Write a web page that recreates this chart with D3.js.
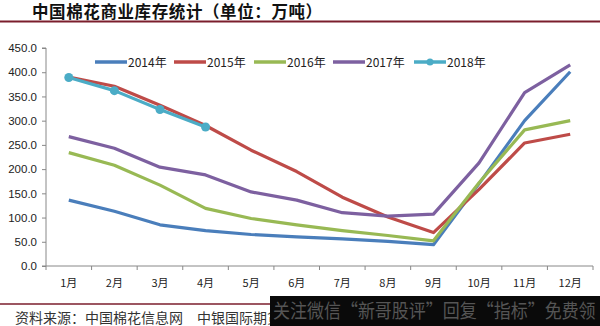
<!DOCTYPE html>
<html><head><meta charset="utf-8">
<script src="https://cdn.jsdelivr.net/npm/d3@7"></script>
<style>body{margin:0;background:#fff}svg{display:block}</style>
</head><body><svg id="c" width="600" height="326"></svg>
<script>
const months = ["1月","2月","3月","4月","5月","6月","7月","8月","9月","10月","11月","12月"];
const seriesNames = ["2014年","2015年","2016年","2017年","2018年"];
const s2014 = [136,113,85,73,65,60,56,51,44,170,300,401];
const s2015 = [390,371,332,290,239,195,142,101,69,158,254,272];
const s2016 = [234,208,167,119,98,85,73,63,52,172,281,300];
const s2017 = [267,243,204,188,153,136,110,103,107,213,358,415];
const s2018 = [389,362,323,287];
const yTicks = [0,50,100,150,200,250,300,350,400,450];
const colors = ["#4a7ebb","#be4b48","#98b954","#7d60a0","#4bacc6"];
const title = "中国棉花商业库存统计（单位：万吨）";
const sourceA = "资料来源：中国棉花信息网";
const sourceB = "中银国际期货";
const watermark = "关注微信“新哥股评”回复“指标”免费领";

const all = [s2014,s2015,s2016,s2017,s2018];
const svg = d3.select("#c");
const cjk = "'Noto Sans CJK SC','Noto Sans',sans-serif";

svg.append("text").attr("x",32).attr("y",18).attr("font-family",cjk).attr("font-weight","bold")
  .attr("font-size",16.5).attr("fill","#111").attr("letter-spacing",0.6).text(title);
svg.append("line").attr("x1",0).attr("x2",600).attr("y1",21.5).attr("y2",21.5).attr("stroke","#7b1e2c").attr("stroke-width",2);

const L = 46, R = 593, T = 48, B = 266;
const x = d3.scaleBand().domain(months).range([L,R]);
const y = d3.scaleLinear().domain([0,450]).range([B,T]);

const yAxis = svg.append("g").attr("transform",`translate(${L},0)`)
  .call(d3.axisLeft(y).tickValues(yTicks).tickFormat(d3.format(".1f")).tickSize(4).tickPadding(5));
yAxis.select(".domain").attr("stroke","#888").attr("d",`M-4,${T}H0V${B}H-4`);
yAxis.selectAll(".tick line").attr("stroke","#888");
yAxis.selectAll("text").attr("font-family","'Liberation Sans',Arial,sans-serif").attr("font-size",11.5).attr("fill","#222");

const xAxis = svg.append("g").attr("transform",`translate(0,${B})`)
  .call(d3.axisBottom(x).tickSize(0).tickPadding(13));
xAxis.select(".domain").attr("stroke","#888").attr("d",`M${L},0H${R}`);
xAxis.selectAll("text").attr("font-family",cjk).attr("font-size",11).attr("fill","#222");
svg.append("g").selectAll("line").data(d3.range(months.length+1)).join("line")
  .attr("x1",i=>L+i*x.step()).attr("x2",i=>L+i*x.step()).attr("y1",B).attr("y2",B+4).attr("stroke","#888");

const line = d3.line().x((d,i)=>x(months[i])+x.bandwidth()/2).y(d=>y(d));
all.forEach((s,k)=>{
  svg.append("path").datum(s).attr("d",line).attr("fill","none").attr("stroke",colors[k])
    .attr("stroke-width",3.2).attr("stroke-linejoin","round");
});
svg.append("g").selectAll("circle").data(s2018).join("circle")
  .attr("cx",(d,i)=>x(months[i])+x.bandwidth()/2).attr("cy",d=>y(d)).attr("r",4.5).attr("fill",colors[4]);

// legend
const legX = [95,174,254,333,414];
seriesNames.forEach((n,k)=>{
  const g = svg.append("g").attr("transform",`translate(${legX[k]},62)`);
  g.append("line").attr("x1",0).attr("x2",32).attr("stroke",colors[k]).attr("stroke-width",3.5);
  if(k===4) g.append("circle").attr("cx",16).attr("r",3.5).attr("fill",colors[k]);
  g.append("text").attr("x",33).attr("y",4.5).attr("font-family",cjk).attr("font-size",12).attr("fill","#222").text(n);
});

// footer
svg.append("line").attr("x1",0).attr("x2",600).attr("y1",304).attr("y2",304).attr("stroke","#7b1e2c").attr("stroke-width",1.5);
svg.append("text").attr("x",15).attr("y",323).attr("font-family",cjk).attr("font-size",14).attr("fill","#333").text(sourceA);
svg.append("text").attr("x",197).attr("y",323).attr("font-family",cjk).attr("font-size",14).attr("fill","#333").text(sourceB);
svg.append("rect").attr("x",270).attr("y",296).attr("width",330).attr("height",30).attr("fill","#0a0a0a");
svg.append("text").attr("transform","translate(273,318) scale(1,1.15)").attr("font-family",cjk)
  .attr("font-size",17).attr("fill","#555").text(watermark);
</script></body></html>
